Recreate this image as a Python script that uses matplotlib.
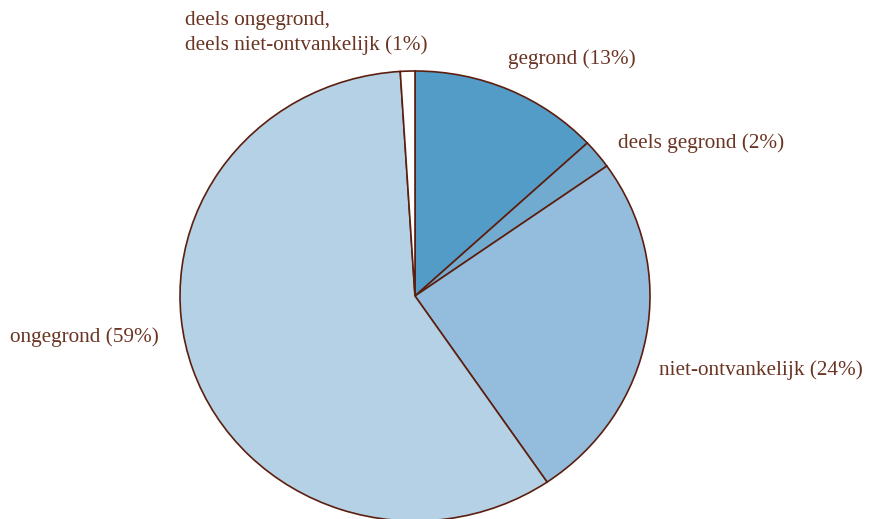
import matplotlib
matplotlib.use("Agg")
import matplotlib.pyplot as plt

# slice values, clockwise from 12 o'clock
categories = ["gegrond", "deels gegrond", "niet-ontvankelijk", "ongegrond",
              "deels ongegrond,\ndeels niet-ontvankelijk"]
values = [13.1, 2.1, 25.3, 58.5, 1.0]
pct_labels = ["13%", "2%", "24%", "59%", "1%"]
colors = ["#529cc7", "#72abd0", "#94bcdc", "#b5d1e5", "#ffffff"]

edge = "#5c1f0f"
txt = "#6b3524"

W, H = 876, 519
# the pie in the reference is slightly squashed vertically (235 wide, 225 tall)
sy = 235 / 225

fig = plt.figure(figsize=(W / 100, H / 100), dpi=100)
ax = fig.add_axes([0, 0, 1, 1])

ax.pie(values, colors=colors, startangle=90, counterclock=False,
       center=(415, (H - 296) * sy), radius=235, frame=True,
       wedgeprops=dict(edgecolor=edge, linewidth=1.2))
ax.set_aspect("auto")
ax.set_xlim(0, W)
ax.set_ylim(0, H * sy)
ax.axis("off")

# label anchor points (left edge, vertical centre) in pixels
label_pos = [(508, 59), (618, 143), (659, 370), (10, 337), (185, 33)]
for name, pct, (x, y) in zip(categories, pct_labels, label_pos):
    ax.text(x, (H - y) * sy, f"{name} ({pct})", ha="left", va="center",
            fontsize=15.3, color=txt, family="Liberation Serif",
            linespacing=1.3)

fig.savefig("out.png", dpi=100)
